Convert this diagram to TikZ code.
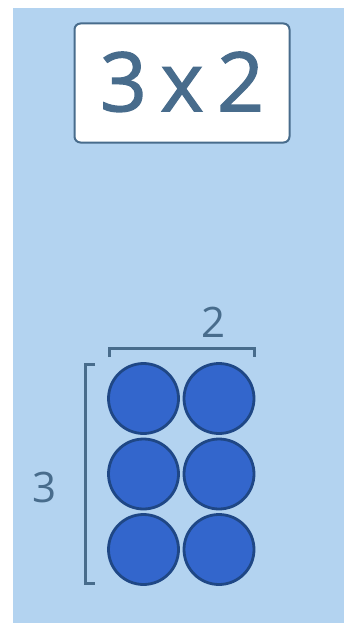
\documentclass[tikz,border=0pt]{standalone}
\usepackage{fontspec}
\setmainfont{Open Sans}
\definecolor{bg}{HTML}{B3D3F0}
\definecolor{ink}{HTML}{486C8C}
\definecolor{dot}{HTML}{3366CC}
\definecolor{dotedge}{HTML}{1F4785}
\begin{document}
\begin{tikzpicture}[x=1pt,y=-1pt,
  counter/.style={circle,draw=dotedge,fill=dot,line width=2.8pt,minimum size=70pt,inner sep=0pt},
  bracket/.style={draw=ink,line width=3pt},
  lab/.style={text=ink,font=\fontsize{42}{42}\selectfont,inner sep=0pt}]
\useasboundingbox (0,0) rectangle (344,623);
\fill[white] (0,0) rectangle (344,623);
\fill[bg] (13,8) rectangle (344,623);
\node[draw=ink,line width=2pt,fill=white,rounded corners=6pt,minimum width=215pt,minimum height=119pt,
  text=ink,font=\fontsize{82}{82}\selectfont\addfontfeature{FakeBold=1.6},inner sep=0pt] (title) at (182,83) {\raisebox{3pt}{3\,x\,2}};
\foreach \r/\y in {1/398.5,2/474,3/549.5}{
  \node[counter] (a\r) at (143.5,\y) {};
  \node[counter] (b\r) at (219,\y) {};
}
\coordinate (tl) at (109,357);
\coordinate (tr) at (254,357);
\draw[bracket] (tl) -- ++(0,-9) -| (tr);
\coordinate (lt) at (95,364);
\coordinate (lb) at (95,583);
\draw[bracket] (lt) -- ++(-10,0) |- (lb);
\node[lab] (two) at (214,322) {2};
\node[lab] (three) at (45,487) {3};
\end{tikzpicture}
\end{document}
